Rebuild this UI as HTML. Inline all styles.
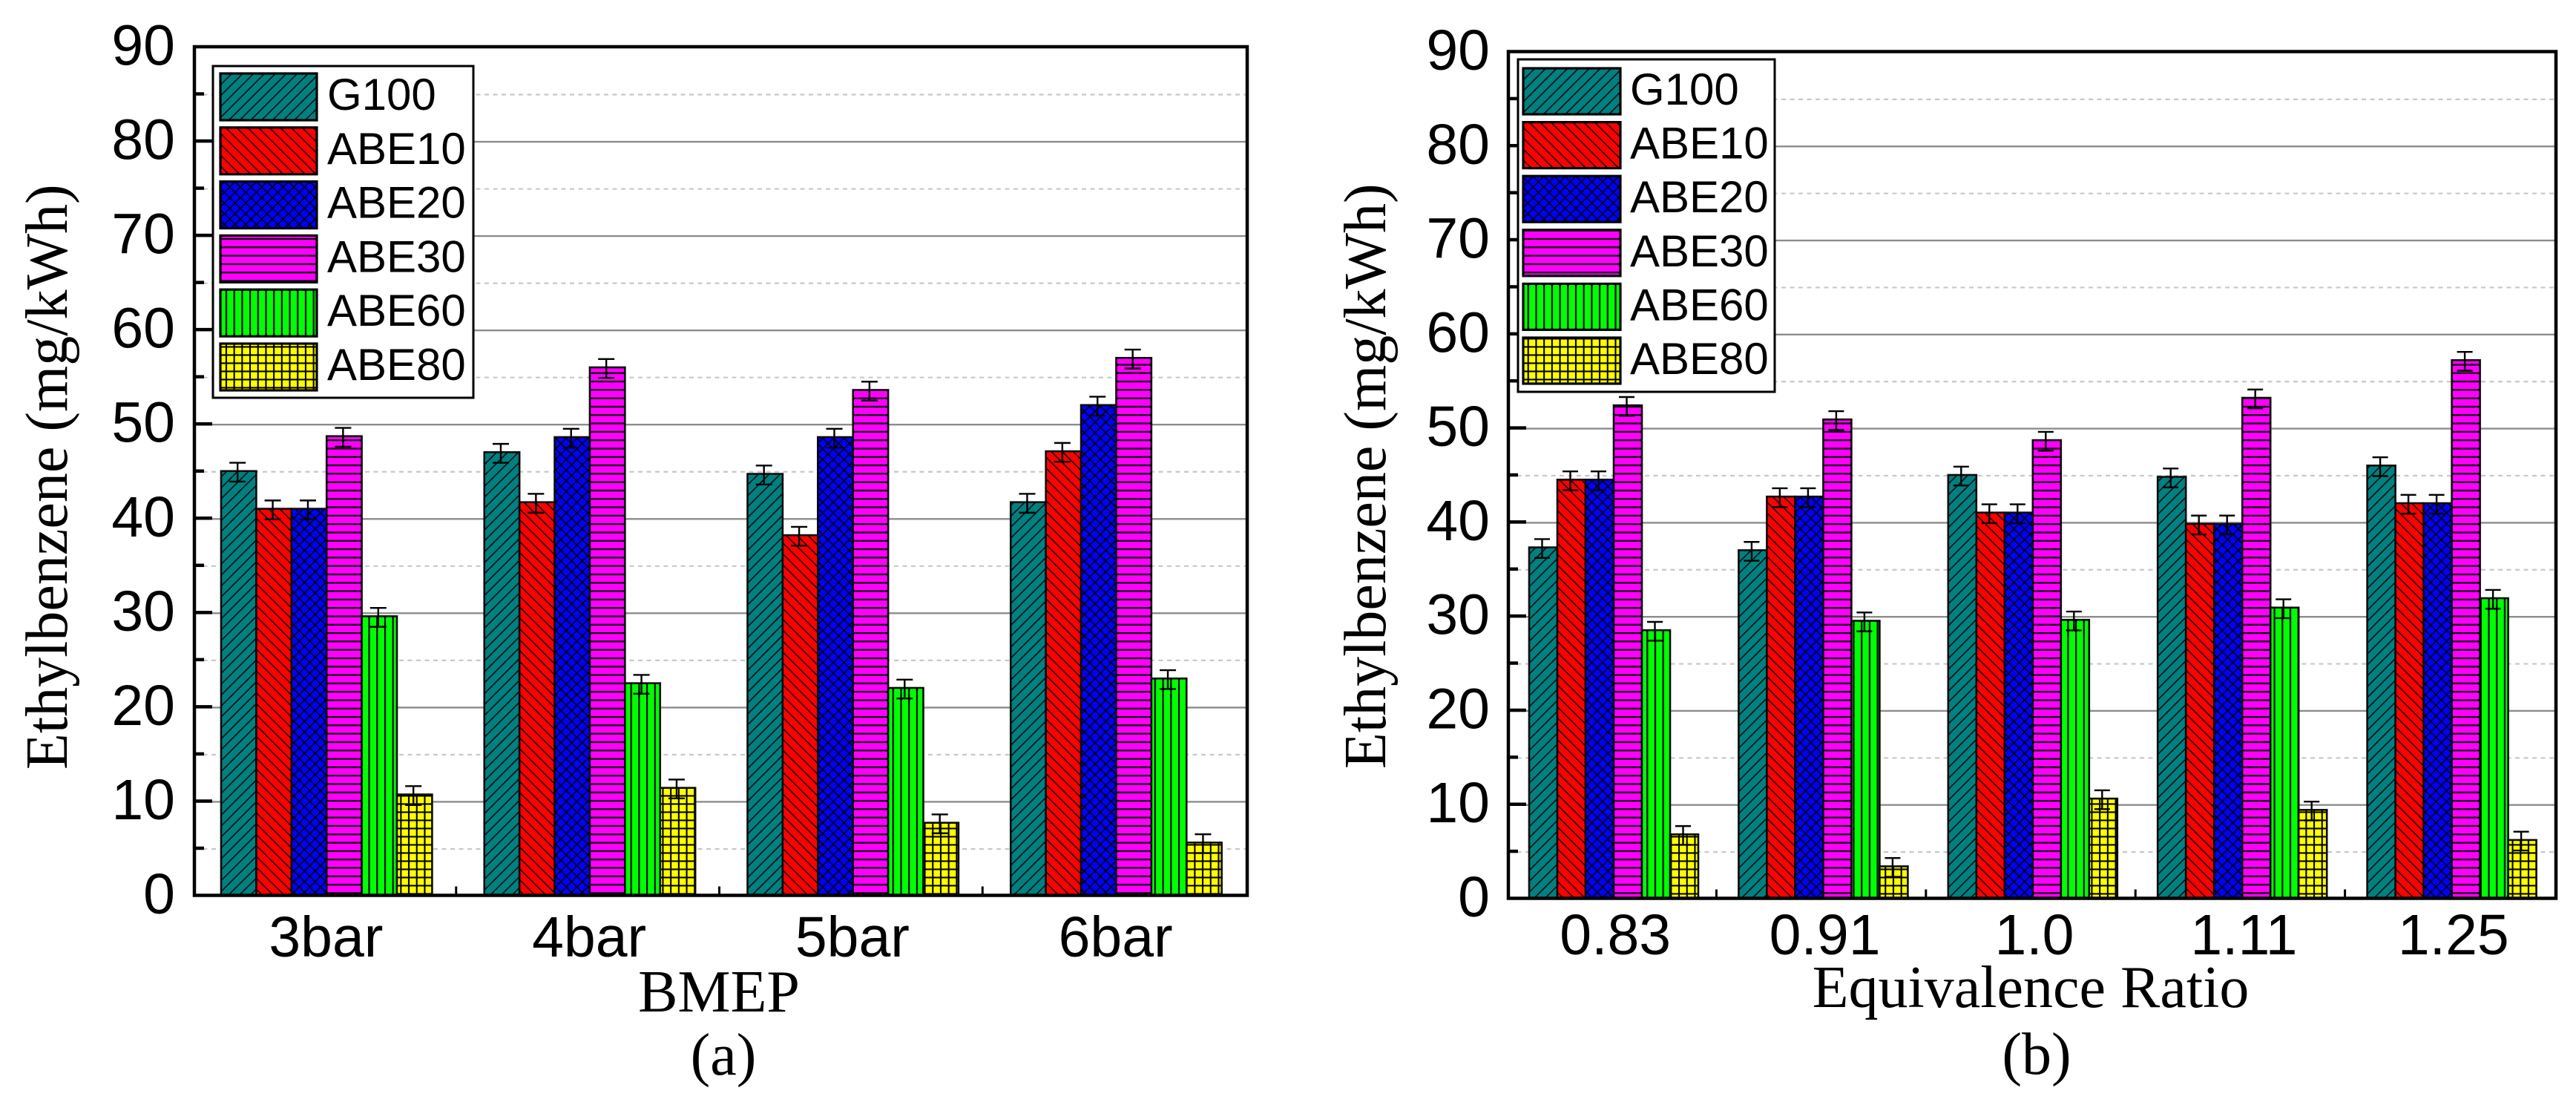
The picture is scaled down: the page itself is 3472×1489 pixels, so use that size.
<!DOCTYPE html>
<html lang="en">
<head>
<meta charset="utf-8">
<title>Ethylbenzene emissions vs BMEP and Equivalence Ratio</title>
<style>
html,body{margin:0;padding:0;background:#fff;}
svg{display:block;}
text{fill:#000;}
.sans{font-family:"Liberation Sans",Arial,sans-serif;}
.serif{font-family:"Liberation Serif","Times New Roman",serif;font-size:80px;}
</style>
</head>
<body>
<svg id="figure" xmlns="http://www.w3.org/2000/svg" width="3472" height="1489" viewBox="0 0 3472 1489">
  <defs>
    <pattern id="p-teal" patternUnits="userSpaceOnUse" width="14.7" height="14.7">
      <rect width="14.7" height="14.7" fill="#008080"/>
      <path d="M-3.7,3.7L3.7,-3.7M0,14.7L14.7,0M11,18.4L18.4,11" stroke="#0a0a0a" stroke-width="1.6" fill="none"/>
    </pattern>
    <pattern id="p-red" patternUnits="userSpaceOnUse" width="14.7" height="14.7">
      <rect width="14.7" height="14.7" fill="#ff0000"/>
      <path d="M-3.7,11L3.7,18.4M0,0L14.7,14.7M11,-3.7L18.4,3.7" stroke="#0a0a0a" stroke-width="1.6" fill="none"/>
    </pattern>
    <pattern id="p-blue" patternUnits="userSpaceOnUse" width="14.4" height="14.4">
      <rect width="14.4" height="14.4" fill="#0000ff"/>
      <path d="M-3.6,3.6L3.6,-3.6M0,14.4L14.4,0M10.8,18L18,10.8M-3.6,10.8L3.6,18M0,0L14.4,14.4M10.8,-3.6L18,3.6" stroke="#000" stroke-width="1.6" fill="none"/>
      <rect x="5.7" y="5.7" width="3" height="3" fill="#000"/>
    </pattern>
    <pattern id="p-magenta" patternUnits="userSpaceOnUse" width="20" height="11.3">
      <rect width="20" height="11.3" fill="#ff00ff"/>
      <rect y="4.5" width="20" height="2.2" fill="#000"/>
    </pattern>
    <pattern id="p-green" patternUnits="userSpaceOnUse" width="10.7" height="20">
      <rect width="10.7" height="20" fill="#00ff00"/>
      <rect x="4.3" width="2.2" height="20" fill="#000"/>
    </pattern>
    <pattern id="p-yellow" patternUnits="userSpaceOnUse" width="10.7" height="11">
      <rect width="10.7" height="11" fill="#ffff00"/>
      <rect x="4.3" width="2.1" height="11" fill="#000"/>
      <rect y="4.4" width="10.7" height="2.1" fill="#000"/>
    </pattern>
  </defs>
  <rect width="3472" height="1489" fill="#fff"/>
  <g id="panel-a"></g>
  <g id="panel-b"></g>

  <text class="serif" transform="translate(90,1037) rotate(-90)">Ethylbenzene (mg/kWh)</text>
  <text class="serif" x="969" y="1363" text-anchor="middle">BMEP</text>
  <text class="serif" x="975" y="1448" text-anchor="middle">(a)</text>

  <text class="serif" transform="translate(1867,1036) rotate(-90)">Ethylbenzene (mg/kWh)</text>
  <text class="serif" x="2737" y="1357" text-anchor="middle">Equivalence Ratio</text>
  <text class="serif" x="2745" y="1447" text-anchor="middle">(b)</text>
</svg>
<script>
// ---- data ----
const seriesNames = ['G100', 'ABE10', 'ABE20', 'ABE30', 'ABE60', 'ABE80'];
const seriesFills = ['p-teal', 'p-red', 'p-blue', 'p-magenta', 'p-green', 'p-yellow'];
const yTickLabels = [0, 10, 20, 30, 40, 50, 60, 70, 80, 90];
const yMinorTicks = [5, 15, 25, 35, 45, 55, 65, 75, 85];

const categoriesA = ['3bar', '4bar', '5bar', '6bar'];
const valuesAG100 = [45, 47, 44.7, 41.7];
const valuesAABE10 = [41, 41.7, 38.2, 47.1];
const valuesAABE20 = [41, 48.6, 48.6, 52];
const valuesAABE30 = [48.7, 56, 53.6, 57];
const valuesAABE60 = [29.6, 22.5, 22, 23];
const valuesAABE80 = [10.7, 11.4, 7.7, 5.6];
const errorsA = [1, 1, 1, 1, 1, 1];

const categoriesB = ['0.83', '0.91', '1.0', '1.11', '1.25'];
const valuesBG100 = [37.3, 37, 45, 44.8, 46];
const valuesBABE10 = [44.5, 42.7, 41, 39.8, 42];
const valuesBABE20 = [44.5, 42.7, 41, 39.8, 42];
const valuesBABE30 = [52.4, 50.9, 48.7, 53.2, 57.2];
const valuesBABE60 = [28.5, 29.5, 29.6, 30.9, 31.9];
const valuesBABE80 = [6.8, 3.4, 10.6, 9.4, 6.2];
const errorsB = [1, 1, 1, 1, 1, 1];

// ---- drawing ----
const NS = 'http://www.w3.org/2000/svg';
function make(parent, tag, attrs, txt) {
  const node = document.createElementNS(NS, tag);
  for (const k in attrs) node.setAttribute(k, attrs[k]);
  if (txt !== undefined) node.textContent = txt;
  parent.appendChild(node);
  return node;
}

function drawPanel(root, cfg, categories, seriesValues, errors) {
  const yScale = v => cfg.y0 - (cfg.y0 - cfg.y90) * v / 90;
  const pitch = (cfg.right - cfg.left) / categories.length;
  const groupX = i => cfg.barStart + pitch * i;
  const barX = (i, s) => groupX(i) + cfg.barW * s;

  // gridlines
  yTickLabels.slice(1, -1).forEach(v => {
    const g = make(root, 'line', {x1: cfg.left, x2: cfg.right, y1: yScale(v) + 1, y2: yScale(v) + 1, stroke: '#8c8c8c', 'stroke-width': 2.4});
    
    
  });
  yMinorTicks.forEach(v => {
    const g = make(root, 'line', {x1: cfg.left, x2: cfg.right, y1: yScale(v) + 1, y2: yScale(v) + 1, stroke: '#c8c8c8', 'stroke-width': 2.2, 'stroke-dasharray': '6 5.5'});
    
    
  });

  // bars
  seriesValues.forEach((vals, s) => {
    vals.forEach((v, i) => {
      const bar = make(root, 'rect', {x: barX(i, s), y: yScale(v), width: cfg.barW, height: cfg.y0 - yScale(v), fill: 'url(#' + seriesFills[s] + ')', stroke: '#0a0a0a', 'stroke-width': 2.6});
      
      
    });
  });

  // error bars
  seriesValues.forEach((vals, s) => {
    vals.forEach((v, i) => {
      const cx = barX(i, s) + cfg.barW / 2 - 1.5;
      const top = yScale(v + errors[s]) + 1.5;
      const bottom = yScale(v - errors[s]) + 1.5;
      const eb = make(root, 'path', {d: 'M' + (cx - cfg.cap / 2) + ',' + top + 'H' + (cx + cfg.cap / 2) + 'M' + cx + ',' + top + 'V' + bottom + 'M' + (cx - cfg.cap / 2) + ',' + bottom + 'H' + (cx + cfg.cap / 2), stroke: '#000', 'stroke-width': 2.4, fill: 'none'});
      
      
    });
  });

  // axis frame
  const frame = make(root, 'rect', {x: cfg.left, y: cfg.y90, width: cfg.right - cfg.left, height: cfg.y0 - cfg.y90, fill: 'none', stroke: '#000', 'stroke-width': 4.5});
  
  

  // y ticks and labels
  yTickLabels.forEach(v => {
    if (v > 0 && v < 90) {
      const t = make(root, 'line', {x1: cfg.left, x2: cfg.left + 24, y1: yScale(v), y2: yScale(v), stroke: '#000', 'stroke-width': 4.5});
      
      
    }
    const lbl = make(root, 'text', {x: cfg.yLabelX, y: yScale(v) + 24.5, 'text-anchor': 'end', class: 'sans', 'font-size': 77}, String(v));
    
    
  });
  yMinorTicks.forEach(v => {
    const t = make(root, 'line', {x1: cfg.left, x2: cfg.left + 13, y1: yScale(v), y2: yScale(v), stroke: '#000', 'stroke-width': 4.5});
    
    
  });

  // x ticks and labels
  categories.forEach((c, i) => {
    if (i > 0) {
      const xt = make(root, 'line', {x1: cfg.left + pitch * i - 2, x2: cfg.left + pitch * i - 2, y1: cfg.y0, y2: cfg.y0 - 12, stroke: '#000', 'stroke-width': 3});
      
      
    }
    const lbl = make(root, 'text', {x: cfg.left + pitch * (i + 0.5) + cfg.xLabelShift, y: cfg.xLabelY, 'text-anchor': 'middle', class: 'sans', 'font-size': 77}, c);
    
    
  });

  // legend
  const lg = make(root, 'g', {});
  
  
  const box = make(lg, 'rect', {x: cfg.legX, y: cfg.legY, width: cfg.legW, height: cfg.legH, fill: '#fff', stroke: '#000', 'stroke-width': 3});
  
  
  seriesNames.forEach((name, s) => {
    const sw = make(lg, 'rect', {x: cfg.swX, y: cfg.swY + s * cfg.swStep, width: cfg.swW, height: cfg.swH, fill: 'url(#' + seriesFills[s] + ')', stroke: '#000', 'stroke-width': 3.2});
    
    
    const tx = make(lg, 'text', {x: cfg.legTextX, y: cfg.legTextY + s * cfg.swStep, class: 'sans', 'font-size': 60}, name);
    
    
  });
}

drawPanel(document.getElementById('panel-a'), {
  left: 262, right: 1681, y0: 1206.5, y90: 63,
  barStart: 298, barW: 47.4, cap: 22,
  yLabelX: 236, xLabelY: 1289, xLabelShift: 0,
  legX: 287, legY: 89, legW: 351, legH: 447,
  swX: 297, swY: 99, swW: 130, swH: 63, swStep: 72.8,
  legTextX: 441, legTextY: 148
}, categoriesA, [valuesAG100, valuesAABE10, valuesAABE20, valuesAABE30, valuesAABE60, valuesAABE80], errorsA);

drawPanel(document.getElementById('panel-b'), {
  left: 2033, right: 3445, y0: 1210.5, y90: 69.5,
  barStart: 2061, barW: 38, cap: 21,
  yLabelX: 2008, xLabelY: 1286, xLabelShift: 3,
  legX: 2046, legY: 80, legW: 346, legH: 448,
  swX: 2053, swY: 92, swW: 131, swH: 62, swStep: 72.6,
  legTextX: 2197, legTextY: 141
}, categoriesB, [valuesBG100, valuesBABE10, valuesBABE20, valuesBABE30, valuesBABE60, valuesBABE80], errorsB);
</script>
</body>
</html>
